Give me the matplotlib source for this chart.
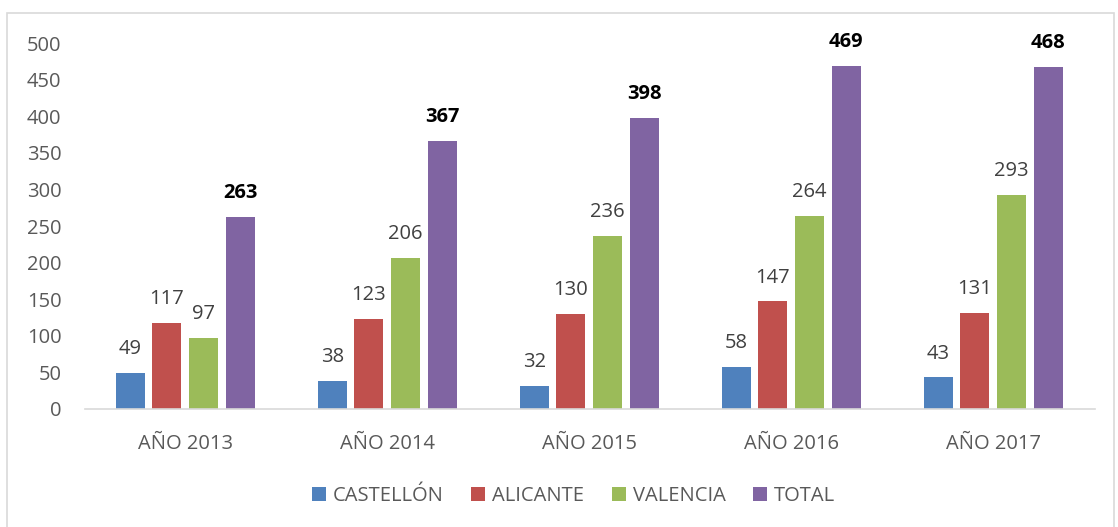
import numpy as np
import matplotlib.pyplot as plt
from matplotlib.patches import Rectangle

categories = ['AÑO 2013', 'AÑO 2014', 'AÑO 2015', 'AÑO 2016', 'AÑO 2017']
castellon = [49, 38, 32, 58, 43]
alicante = [117, 123, 130, 147, 131]
valencia = [97, 206, 236, 264, 293]
total = [263, 367, 398, 469, 468]

series = [('CASTELLÓN', castellon, '#4f81bd'),
          ('ALICANTE', alicante, '#c0504d'),
          ('VALENCIA', valencia, '#9bbb59'),
          ('TOTAL', total, '#8064a2')]

plt.rcParams['font.family'] = ['Open Sans', 'DejaVu Sans']
fontsize = 14.5
grey = '#595959'

fig = plt.figure(figsize=(11.18, 5.27), dpi=100)
ax = fig.add_axes([0.076, 0.224, 0.903, 0.694])
fig.patches.append(Rectangle((0.006, -0.01), 0.99, 0.985, transform=fig.transFigure,
                             fill=False, edgecolor='#d9d9d9', linewidth=1.2))

x = np.arange(len(categories))
offsets = [-0.275, -0.095, 0.087, 0.27]
width = 0.144
for (name, vals, color), off in zip(series, offsets):
    bars = ax.bar(x + off, vals, width, color=color, label=name)
    if name == 'TOTAL':
        ax.bar_label(bars, padding=10, fontsize=fontsize, fontweight='bold', color='black')
    else:
        ax.bar_label(bars, padding=10, fontsize=fontsize, color='#404040')

ax.set_xlim(-0.5, 4.5)
ax.set_ylim(0, 500)
ax.set_yticks(range(0, 501, 50))
ax.set_xticks(x)
ax.set_xticklabels(categories)
ax.tick_params(length=0, labelsize=fontsize, colors=grey)
ax.tick_params(axis='x', pad=18)
ax.tick_params(axis='y', pad=17)
for side in ['top', 'right', 'left']:
    ax.spines[side].set_visible(False)
ax.spines['bottom'].set_color('#d9d9d9')
ax.spines['bottom'].set_linewidth(1.2)

leg = fig.legend(loc='center', bbox_to_anchor=(0.513, 0.058), ncol=4, frameon=False,
                 fontsize=fontsize, handlelength=0.7, handleheight=0.7,
                 handletextpad=0.35, columnspacing=1.35)
for t in leg.get_texts():
    t.set_color(grey)

plt.savefig('out.png', dpi=100)
